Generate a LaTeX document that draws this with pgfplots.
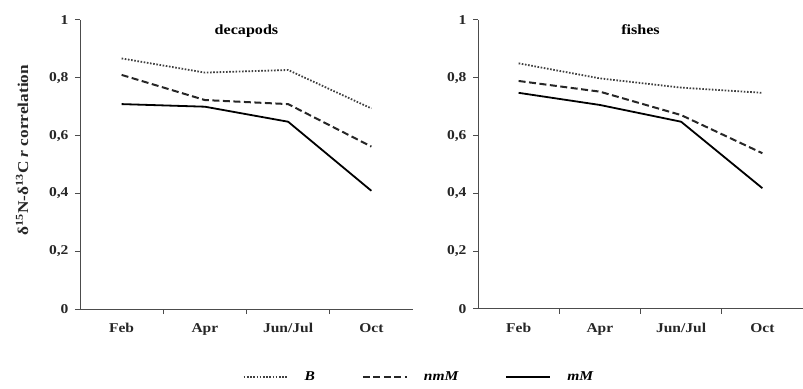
\documentclass[border=0pt]{standalone}
\usepackage{pgfplots}
\pgfplotsset{compat=1.18}
\usepackage{fontspec}
\setmainfont{Liberation Serif}[FakeStretch=1.15]
\begin{document}
\begin{tikzpicture}
\path[use as bounding box] (0bp,0bp) rectangle (803bp,389bp);
\pgfplotsset{
  myax/.style={
    scale only axis, height=289bp,
    xmin=-0.5, xmax=3.5, ymin=0, ymax=1,
    axis lines=left, axis line style={-, draw=black!70, line width=1bp},
    xtick={0,1,2,3}, xticklabels={Feb,Apr,Jun/Jul,Oct},
    major x tick style={draw=none},
    minor xtick={0.5,1.5,2.5},
    minor tick length=5bp,
    every minor tick/.style={draw=black!70, line width=1bp},
    ytick={0,0.2,0.4,0.6,0.8,1},
    major tick length=5bp,
    tick align=outside,
    every tick/.style={draw=black!70, line width=1bp},
    /pgf/number format/use comma, /pgf/number format/fixed,
    /pgf/number format/assume math mode=true,
    tick label style={font=\fontsize{13.5bp}{15bp}\selectfont\bfseries, text=black!85},
    xticklabel style={yshift=-6bp},
    yticklabel style={xshift=-3bp},
    clip=false,
  },
  Bs/.style={black!75, line width=1.8bp, dash pattern=on 1.6bp off 1.6bp},
  Ns/.style={black!85, line width=2bp, dash pattern=on 7bp off 3.5bp},
  Ms/.style={black, line width=1.8bp},
}
\begin{axis}[myax, at={(80bp,80bp)}, anchor=south west, width=333bp,
  title={decapods}, title style={at={(0.5,0.975)}, anchor=north, font=\fontsize{14bp}{16bp}\selectfont\bfseries},
  legend columns=3,
  legend style={draw=none, fill=none, at={(1.018,-0.235)}, anchor=center,
    font=\fontsize{13.5bp}{15bp}\selectfont\bfseries\itshape,
    /tikz/every odd column/.append style={column sep=14bp},
    /tikz/every even column/.append style={column sep=45bp}},
  legend image code/.code={\draw[#1] (0bp,0bp) -- (44bp,0bp);},
]
\node[rotate=90, anchor=center, font=\fontsize{15bp}{17bp}\selectfont\bfseries, text=black!85]
  at (axis description cs:-0.174,0.55) {δ\textsuperscript{15}N-δ\textsuperscript{13}C \textit{r} correlation};
\addplot[Bs] coordinates {(0,0.867) (1,0.818) (2,0.827) (3,0.694)};
\addlegendentry{B\hspace{12bp}}
\addplot[Ns] coordinates {(0,0.810) (1,0.723) (2,0.709) (3,0.562)};
\addlegendentry{nmM}
\addplot[Ms] coordinates {(0,0.709) (1,0.700) (2,0.648) (3,0.409)};
\addlegendentry{mM}
\end{axis}
\begin{axis}[myax, at={(478bp,80bp)}, anchor=south west, width=325bp,
  title={fishes}, title style={at={(0.5,0.975)}, anchor=north, font=\fontsize{14bp}{16bp}\selectfont\bfseries},
]
\addplot[Bs] coordinates {(0,0.850) (1,0.798) (2,0.766) (3,0.748)};
\addplot[Ns] coordinates {(0,0.789) (1,0.752) (2,0.671) (3,0.539)};
\addplot[Ms] coordinates {(0,0.748) (1,0.706) (2,0.648) (3,0.418)};
\end{axis}
\end{tikzpicture}
\end{document}
